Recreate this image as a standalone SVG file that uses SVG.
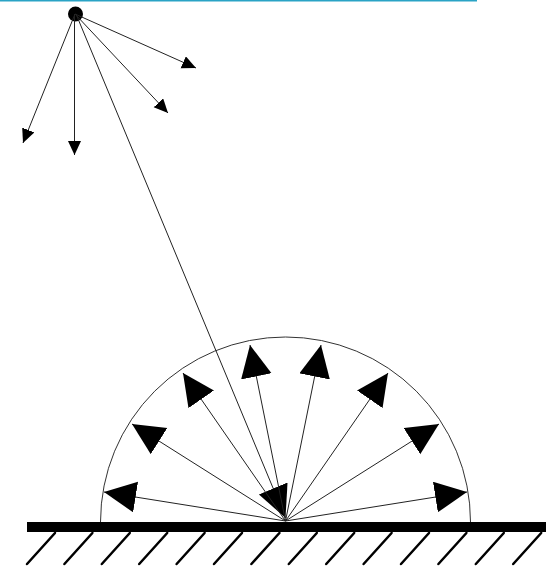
<svg xmlns="http://www.w3.org/2000/svg" width="549" height="568" viewBox="0 0 549 568">
<style>
.ray{stroke:#222;stroke-width:1;fill:none}
.big{marker-end:url(#bigHead)}
.small{marker-end:url(#smallHead)}
.hatch{stroke:#000;stroke-width:2.5;stroke-linecap:round}
</style>
<defs>
<marker id="bigHead" markerUnits="userSpaceOnUse" markerWidth="34" markerHeight="32" refX="32" refY="15.5" orient="auto" viewBox="0 0 34 32">
<path d="M0,0 L32,15.5 L0,31 z" fill="#000"/>
</marker>
<marker id="smallHead" markerUnits="userSpaceOnUse" markerWidth="15" markerHeight="14" refX="14" refY="6.5" orient="auto" viewBox="0 0 15 14">
<path d="M0,0 L14,6.5 L0,13 z" fill="#000"/>
</marker>
</defs>
<rect id="topline" x="0" y="0" width="477" height="1.5" fill="#2aa3c5"/>
<g id="ground">
<rect x="27" y="522" width="519" height="10" fill="#000"/>
<g>
<line class="hatch" x1="55" y1="533" x2="27" y2="564"/>
<line class="hatch" x1="92.4" y1="533" x2="64.4" y2="564"/>
<line class="hatch" x1="129.8" y1="533" x2="101.8" y2="564"/>
<line class="hatch" x1="167.2" y1="533" x2="139.2" y2="564"/>
<line class="hatch" x1="204.6" y1="533" x2="176.6" y2="564"/>
<line class="hatch" x1="242" y1="533" x2="214" y2="564"/>
<line class="hatch" x1="279.4" y1="533" x2="251.4" y2="564"/>
<line class="hatch" x1="316.8" y1="533" x2="288.8" y2="564"/>
<line class="hatch" x1="354.2" y1="533" x2="326.2" y2="564"/>
<line class="hatch" x1="391.6" y1="533" x2="363.6" y2="564"/>
<line class="hatch" x1="429" y1="533" x2="401" y2="564"/>
<line class="hatch" x1="466.4" y1="533" x2="438.4" y2="564"/>
<line class="hatch" x1="503.8" y1="533" x2="475.8" y2="564"/>
<line class="hatch" x1="541.2" y1="533" x2="513.2" y2="564"/>
</g>
</g>
<g id="hemisphere">
<path d="M100.5,522 A185,185 0 0 1 470.5,522" fill="none" stroke="#333" stroke-width="1"/>
</g>
<g id="source">
<circle cx="75.5" cy="14" r="7.5" fill="#000"/>
</g>
<g id="connectors">
<line class="ray small" x1="75" y1="14" x2="23" y2="143"/>
<line class="ray small" x1="74.5" y1="14" x2="74.5" y2="155"/>
<line class="ray small" x1="75" y1="14" x2="168" y2="113"/>
<line class="ray small" x1="75" y1="14" x2="196" y2="68"/>
<line class="ray big" x1="76" y1="14" x2="285.5" y2="518"/>
<line class="ray big" x1="285.5" y1="521" x2="104" y2="492"/>
<line class="ray big" x1="285.5" y1="521" x2="132" y2="424"/>
<line class="ray big" x1="285.5" y1="521" x2="183" y2="373"/>
<line class="ray big" x1="285.5" y1="521" x2="250" y2="345"/>
<line class="ray big" x1="285.5" y1="521" x2="321" y2="345"/>
<line class="ray big" x1="285.5" y1="521" x2="388" y2="373"/>
<line class="ray big" x1="285.5" y1="521" x2="439" y2="424"/>
<line class="ray big" x1="285.5" y1="521" x2="467" y2="492"/>
</g>
</svg>
